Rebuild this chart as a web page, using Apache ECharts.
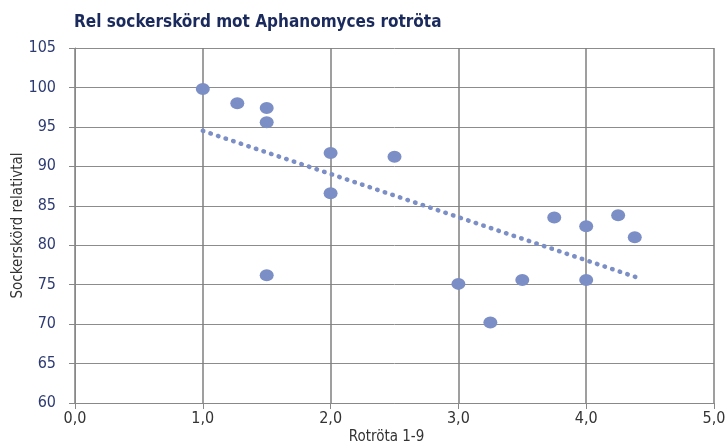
<!DOCTYPE html>
<html><head><meta charset="utf-8">
<script src="https://cdn.jsdelivr.net/npm/echarts@6/dist/echarts.min.js"></script>
<style>html,body{margin:0;padding:0;background:#fff}#c{width:728px;height:448px}</style>
</head><body><div id="c"></div>
<script>
const xValues = [1.0, 1.27, 1.5, 1.5, 1.5, 2.0, 2.0, 2.5, 3.0, 3.25, 3.5, 3.75, 4.0, 4.0, 4.25, 4.38];
const yValues = [99.8, 98.0, 97.4, 95.6, 76.2, 91.7, 86.6, 91.2, 75.1, 70.2, 75.6, 83.5, 82.4, 75.6, 83.8, 81.0];
const trendX = [1.0, 4.4];
const trendY = [94.5, 75.9];
const FONT = '"Liberation Sans Narrow","DejaVu Sans Condensed","Roboto",sans-serif';
const chart = echarts.init(document.getElementById('c'));
chart.setOption({
  animation: false,
  title: { text: 'Rel sockerskörd mot Aphanomyces rotröta', left: 69, top: 9,
    textStyle: { fontFamily: FONT, fontWeight: 'bold', fontSize: 17, color: '#1b2a5c' } },
  grid: { left: 75, right: 14, top: 48, bottom: 45, containLabel: false, outerBoundsMode: 'none' },
  xAxis: { type: 'value', min: 0, max: 5, interval: 1,
    name: 'Rotröta 1-9', nameLocation: 'middle', nameGap: 27, nameMoveOverlap: false,
    nameTextStyle: { fontFamily: FONT, fontSize: 15, color: '#333', padding: [0, 16, 0, 0] },
    axisLine: { show: true, onZero: false, lineStyle: { color: '#888', width: 1 } },
    axisTick: { show: true, length: 6, lineStyle: { color: '#888' } },
    axisLabel: { formatter: v => v.toFixed(1).replace('.', ','), fontFamily: FONT, fontSize: 16, color: '#333', margin: 8 },
    splitLine: { show: true, lineStyle: { color: '#7f7f7f', width: 1.5 } } },
  yAxis: { type: 'value', min: 60, max: 105, interval: 5,
    name: 'Sockerskörd relativtal', nameLocation: 'middle', nameGap: 49, nameRotate: 90, nameMoveOverlap: false,
    nameTextStyle: { fontFamily: FONT, fontSize: 15, color: '#333' },
    axisLine: { show: true, onZero: false, lineStyle: { color: '#888', width: 1 } },
    axisTick: { show: true, inside: false, length: 6, lineStyle: { color: '#888' } },
    axisLabel: { fontFamily: FONT, fontSize: 16, color: '#2e3b73', margin: 19 },
    splitLine: { show: true, lineStyle: { color: '#8c8c8c', width: 1 } } },
  series: [
    { type: 'line', data: trendX.map((x, i) => [x, trendY[i]]), symbol: 'none', z: 2,
      lineStyle: { color: '#7b8ec5', width: 4.5, type: [0.5, 7.5], cap: 'round' } },
    { type: 'scatter', data: xValues.map((x, i) => [x, yValues[i]]), symbol: 'circle', symbolSize: [14, 12], z: 3,
      itemStyle: { color: '#7b8ec5', opacity: 1 } }
  ]
});
</script></body></html>
